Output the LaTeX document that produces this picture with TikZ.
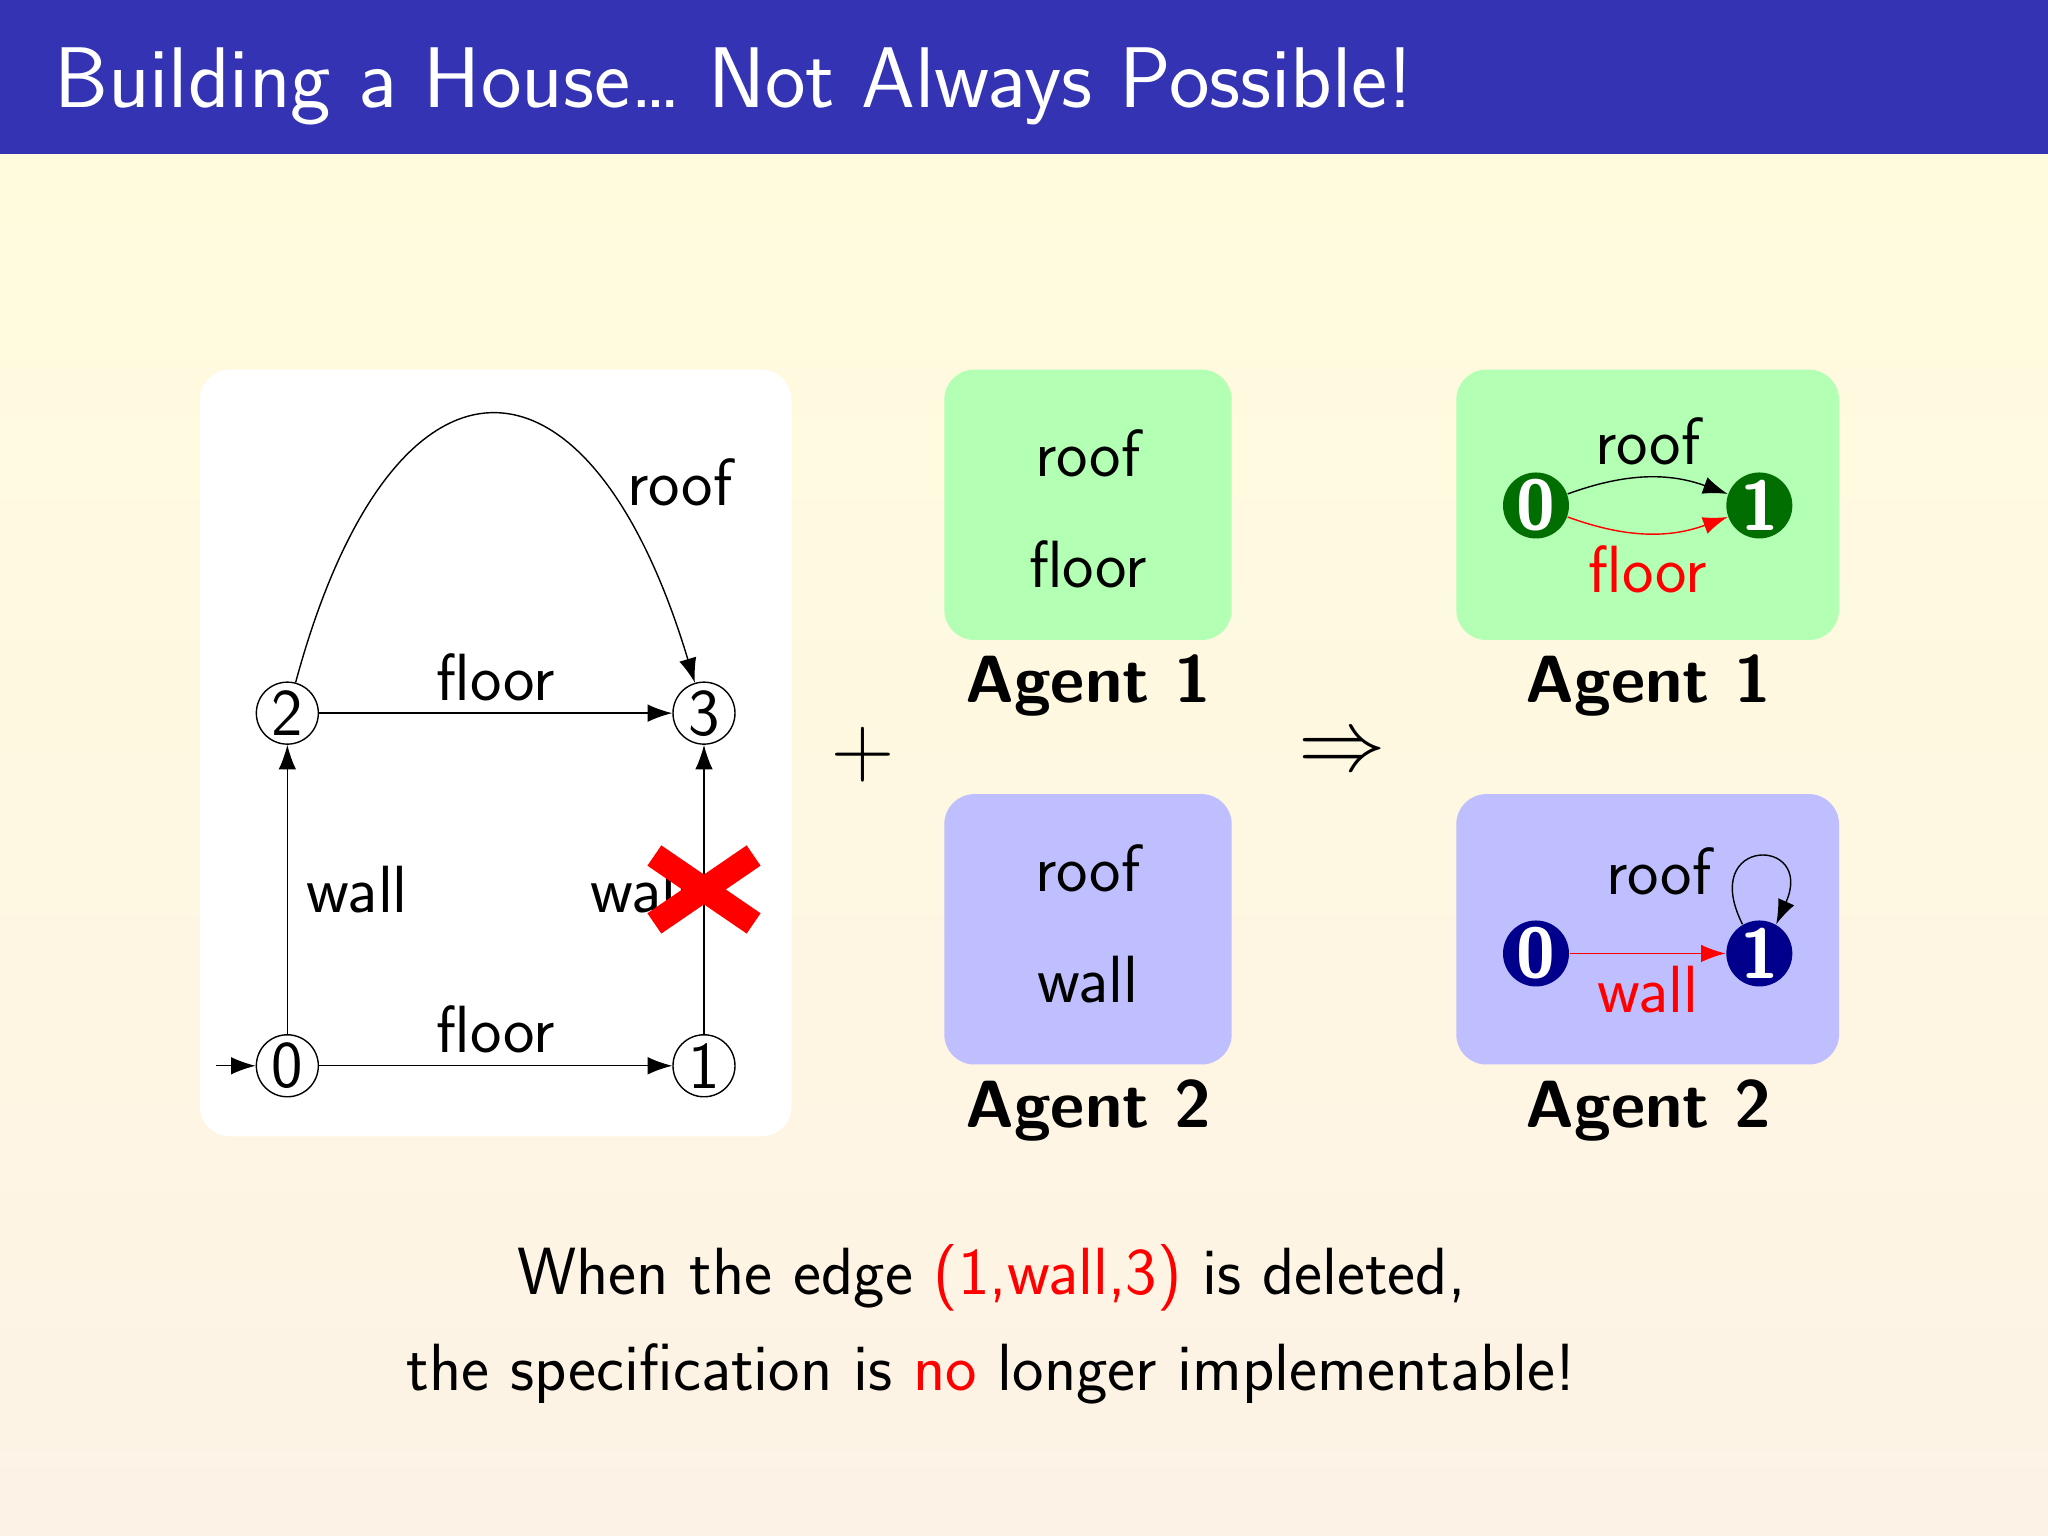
\documentclass[tikz,border=0pt]{standalone}
\usetikzlibrary{arrows.meta,positioning}
\definecolor{titleblue}{RGB}{51,51,179}
\definecolor{agreen}{RGB}{179,255,179}
\definecolor{ablue}{RGB}{191,191,255}
\definecolor{dgreen}{RGB}{0,110,0}
\definecolor{dblue}{RGB}{0,0,140}
\definecolor{bgtop}{RGB}{255,252,222}
\definecolor{bgbot}{RGB}{253,242,230}
\begin{document}
\begin{tikzpicture}[x=0.013061cm,y=-0.013061cm,font=\sffamily,
  st/.style={circle,draw,inner sep=0pt,minimum size=0.62cm,font=\fontsize{19}{23}\selectfont\sffamily},
  lbl/.style={font=\fontsize{19}{23}\selectfont\sffamily},
  ag/.style={font=\fontsize{19}{23}\selectfont\sffamily\bfseries},
  fst/.style={circle,inner sep=0pt,minimum size=0.66cm,text=white,font=\fontsize{20}{23}\selectfont\sffamily\bfseries},
  ar/.style={-{Latex[length=7pt,width=5pt]}},
  box/.style={rounded corners=0.3cm}]
\useasboundingbox (0,0) rectangle (1568,1176);
\shade[top color=bgtop,bottom color=bgbot] (0,118) rectangle (1568,1176);
\fill[titleblue] (0,0) rectangle (1568,118);
\node[anchor=west,text=white,font=\fontsize{24.5}{30}\selectfont\sffamily] (title) at (32,66) {Building a House\dots\ Not Always Possible!};
% left graph
\fill[white,box] (153,283) rectangle (606,870);
\node[st] (n0) at (220,816) {\textsf{0}};
\node[st] (n1) at (539,816) {\textsf{1}};
\node[st] (n2) at (220,546) {\textsf{2}};
\node[st] (n3) at (539,546) {\textsf{3}};
\coordinate (in) at (165,816);
\draw[ar] (in) -- (n0);
\draw[ar] (n0) -- node[lbl,above] {floor} (n1);
\draw[ar] (n2) -- node[lbl,above] {floor} (n3);
\draw[ar] (n0) -- node[lbl,right,xshift=2pt] {wall} (n2);
\draw[ar] (n1) -- node[lbl,left,xshift=0pt] (w13) {wall} (n3);
\draw[ar] (n2) .. controls (300,250) and (450,250) .. node[lbl,pos=0.75,right,xshift=4pt] {roof} (n3);
\draw[red,line width=7pt] (501,655) -- (577,707) (501,707) -- (577,655);
\node[font=\fontsize{30}{30}\selectfont] (plus) at (661,578) {$+$};
\node[font=\fontsize{30}{30}\selectfont] (impl) at (1028,578) {$\Rightarrow$};
% agent boxes
\fill[agreen,box] (723,283) rectangle (943,490);
\fill[ablue,box] (723,608) rectangle (943,815);
\node[lbl] (r1) at (833,347) {roof};
\node[lbl] (f1) at (833,432) {floor};
\node[lbl] (r2) at (833,665) {roof};
\node[lbl] (w2) at (833,750) {wall};
\node[ag] (a1) at (833,525) {Agent 1};
\node[ag] (a2) at (833,850) {Agent 2};
\fill[agreen,box] (1115,283) rectangle (1408,490);
\fill[ablue,box] (1115,608) rectangle (1408,815);
\node[ag] (a1r) at (1262,525) {Agent 1};
\node[ag] (a2r) at (1262,850) {Agent 2};
\node[fst,fill=dgreen] (g0) at (1176,387) {\textsf{0}};
\node[fst,fill=dgreen] (g1) at (1347,387) {\textsf{1}};
\draw[ar] (g0) to[bend left=20] node[lbl,above] {roof} (g1);
\draw[ar,red] (g0) to[bend right=20] node[lbl,below] {floor} (g1);
\node[fst,fill=dblue] (b0) at (1176,730) {\textsf{0}};
\node[fst,fill=dblue] (b1) at (1347,730) {\textsf{1}};
\draw[ar,red] (b0) -- node[lbl,below] {wall} (b1);
\draw[ar] (b1.120) .. controls (1300,640) and (1390,640) .. (b1.60);
\node[lbl] (rl) at (1270,667) {roof};
\node[lbl] (t1) at (759,978) {When the edge \textcolor{red}{(1,wall,3)} is deleted,};
\node[lbl] (t2) at (759,1052) {the specification is \textcolor{red}{no} longer implementable!};
\end{tikzpicture}
\end{document}
